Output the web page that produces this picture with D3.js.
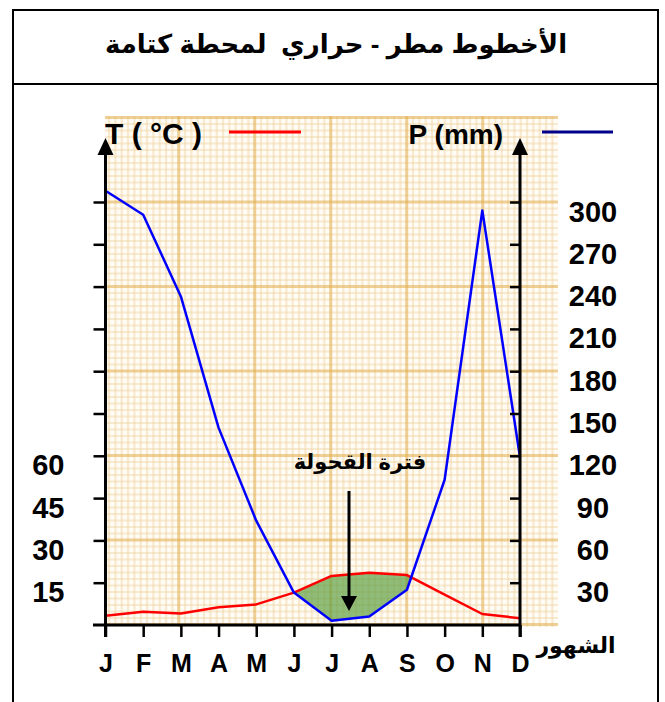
<!DOCTYPE html>
<html>
<head>
<meta charset="utf-8">
<script src="https://cdn.jsdelivr.net/npm/d3@7"></script>
<style>
  html, body { margin: 0; padding: 0; background: #fff; }
  svg { display: block; }
  text { font-family: "Liberation Sans", Arial, "DejaVu Sans", sans-serif; font-weight: bold; fill: #000; }
</style>
</head>
<body>
<svg id="chart" width="665" height="702"></svg>
<script>
// ---- data ----
const months = ["J", "F", "M", "A", "M", "J", "J", "A", "S", "O", "N", "D"];
const precip = [308, 291, 233, 140, 74, 23, 3, 6, 25, 103, 294, 119];       // P (mm)
const temp   = [3.3, 4.7, 4.1, 6.3, 7.3, 11.5, 17.4, 18.5, 17.7, 10.8, 3.9, 2.4]; // T (°C)
const pTicks = [30, 60, 90, 120, 150, 180, 210, 240, 270, 300];
const pTickLabels = ["30", "60", "90", "120", "150", "180", "210", "240", "270", "300"];
const tTicks = [15, 30, 45, 60, 75, 90, 105, 120, 135, 150];
const tTickLabels = ["15", "30", "45", "60"];
const titleText = "الأخطوط مطر - حراري  لمحطة كتامة";
const dryLabel = "فترة القحولة";
const monthsLabel = "الشهور";

// ---- layout ----
const svg = d3.select("#chart");
const x = d3.scaleLinear().domain([0, 11]).range([105.5, 520]);
const yP = d3.scaleLinear().domain([0, 300]).range([625, 202]);
const yT = d3.scaleLinear().domain([0, 150]).range([625, 202]);

// frame
svg.append("rect").attr("x", 13).attr("y", 10).attr("width", 645).attr("height", 720)
  .attr("fill", "none").attr("stroke", "#000").attr("stroke-width", 2);
svg.append("line").attr("x1", 13).attr("x2", 658).attr("y1", 84).attr("y2", 84)
  .attr("stroke", "#000").attr("stroke-width", 2);

svg.append("text").attr("x", 336).attr("y", 44).attr("text-anchor", "middle")
  .attr("dominant-baseline", "central").attr("direction", "rtl")
  .attr("xml:space", "preserve").style("white-space", "pre")
  .style("font-size", "26px").text(titleText);

// ---- graph-paper background ----
const gx0 = 105, gx1 = 558, gy0 = 116, gy1 = 627;
const bg = svg.append("g");
bg.append("rect").attr("x", gx0).attr("y", gy0).attr("width", gx1 - gx0).attr("height", gy1 - gy0)
  .attr("fill", "#fffbf5");
const majX = 76, majY = 84.5, nMinX = 12, nMinY = 13;
const xStart = 102.7, yStart = 117.5;
const vMinor = [], vMajor = [], hMinor = [], hMajor = [];
for (let k = 0; ; k++) {
  const v = xStart + k * majX / nMinX;
  if (v > gx1) break;
  if (v < gx0) continue;
  (k % nMinX === 0 ? vMajor : vMinor).push(v);
}
for (let k = 0; ; k++) {
  const v = yStart + k * majY / nMinY;
  if (v > gy1) break;
  if (v < gy0) continue;
  (k % nMinY === 0 ? hMajor : hMinor).push(v);
}
const minorCol = "rgba(236,204,145,0.36)";
const majorCol = "rgba(226,176,80,0.58)";
bg.selectAll(".vmin").data(vMinor).join("line").attr("x1", d => d).attr("x2", d => d)
  .attr("y1", gy0).attr("y2", gy1).attr("stroke", minorCol).attr("stroke-width", 2.2);
bg.selectAll(".hmin").data(hMinor).join("line").attr("y1", d => d).attr("y2", d => d)
  .attr("x1", gx0).attr("x2", gx1).attr("stroke", minorCol).attr("stroke-width", 2.2);
bg.selectAll(".vmaj").data(vMajor).join("line").attr("x1", d => d).attr("x2", d => d)
  .attr("y1", gy0).attr("y2", gy1).attr("stroke", majorCol).attr("stroke-width", 3);
bg.selectAll(".hmaj").data(hMajor).join("line").attr("y1", d => d).attr("y2", d => d)
  .attr("x1", gx0).attr("x2", gx1).attr("stroke", majorCol).attr("stroke-width", 3);

// ---- dry period area (P < 2T) ----
const pts = [];
for (let i = 0; i < months.length; i++) {
  const d0 = precip[i] - 2 * temp[i];
  pts.push({ x: i, p: precip[i], t2: 2 * temp[i] });
  if (i < months.length - 1) {
    const d1 = precip[i + 1] - 2 * temp[i + 1];
    if (d0 * d1 < 0) {
      const f = d0 / (d0 - d1);
      const v = precip[i] + f * (precip[i + 1] - precip[i]);
      pts.push({ x: i + f, p: v, t2: v });
    }
  }
}
const dryArea = d3.area()
  .defined(d => d.p <= d.t2 + 1e-9)
  .x(d => x(d.x)).y0(d => yP(d.p)).y1(d => yP(d.t2));
svg.append("path").datum(pts).attr("d", dryArea)
  .attr("fill", "#5c9e40").attr("fill-opacity", 0.68);

// ---- lines ----
const lineP = d3.line().x((d, i) => x(i)).y(d => yP(d));
const lineT = d3.line().x((d, i) => x(i)).y(d => yT(d));
svg.append("path").datum(temp).attr("d", lineT).attr("fill", "none")
  .attr("stroke", "#ff0000").attr("stroke-width", 2.5).attr("stroke-linejoin", "round");
svg.append("path").datum(precip).attr("d", lineP).attr("fill", "none")
  .attr("stroke", "#0000ff").attr("stroke-width", 2.5).attr("stroke-linejoin", "round");

// ---- axes ----
const axisColor = "#000";
// left axis
const leftAxis = d3.axisLeft(yT).tickValues(tTicks).tickSizeInner(12).tickSizeOuter(0)
  .tickPadding(29).tickFormat(d => tTickLabels.includes(String(d)) ? String(d) : "");
const gl = svg.append("g").attr("transform", `translate(${x(0)},0)`).call(leftAxis);
gl.select(".domain").remove();
gl.selectAll(".tick line").attr("stroke", axisColor).attr("stroke-width", 2.5);
gl.selectAll(".tick text").attr("dy", "0").attr("dominant-baseline", "central")
  .attr("transform", "translate(0,9)").style("font-size", "29px").style("font-family", "Liberation Sans, Arial, sans-serif");

// right axis
const rightAxis = d3.axisRight(yP).tickValues(pTicks).tickSizeInner(-10).tickSizeOuter(0)
  .tickPadding(73).tickFormat((d, i) => pTickLabels[i]);
const gr = svg.append("g").attr("transform", `translate(${x(11)},0)`).call(rightAxis);
gr.select(".domain").remove();
gr.selectAll(".tick line").attr("stroke", axisColor).attr("stroke-width", 2.5);
gr.selectAll(".tick text").attr("dy", "0").attr("dominant-baseline", "central")
  .attr("text-anchor", "middle").attr("transform", "translate(0,9)")
  .style("font-size", "29px").style("font-family", "Liberation Sans, Arial, sans-serif");

// bottom axis
const bottomAxis = d3.axisBottom(x).tickValues(d3.range(12)).tickSizeInner(12).tickSizeOuter(0)
  .tickPadding(17).tickFormat(i => months[i]);
const gb = svg.append("g").attr("transform", `translate(0,${yP(0)})`).call(bottomAxis);
gb.select(".domain").remove();
gb.selectAll(".tick line").attr("stroke", axisColor).attr("stroke-width", 2.5);
gb.selectAll(".tick text").style("font-size", "25px").style("font-family", "Liberation Sans, Arial, sans-serif");

// axis lines
svg.append("line").attr("x1", 93).attr("x2", x(11)).attr("y1", yP(0)).attr("y2", yP(0))
  .attr("stroke", axisColor).attr("stroke-width", 3);
[x(0), x(11)].forEach(ax => {
  svg.append("line").attr("x1", ax).attr("x2", ax).attr("y1", 150).attr("y2", 637)
    .attr("stroke", axisColor).attr("stroke-width", 3);
  svg.append("path").attr("d", `M${ax},138 L${ax - 8},155 L${ax + 8},155 Z`).attr("fill", axisColor);
});

// ---- legend / axis titles ----
svg.append("text").attr("x", 105).attr("y", 144).attr("xml:space", "preserve")
  .style("font-size", "30px").style("white-space", "pre").text("T ( °C )");
svg.append("line").attr("x1", 229).attr("x2", 301).attr("y1", 132).attr("y2", 132)
  .attr("stroke", "#ff0000").attr("stroke-width", 3);
svg.append("text").attr("x", 503).attr("y", 144).attr("text-anchor", "end")
  .style("font-size", "28px").text("P (mm)");
svg.append("line").attr("x1", 542).attr("x2", 613).attr("y1", 132).attr("y2", 132)
  .attr("stroke", "#00008b").attr("stroke-width", 3);

svg.append("text").attr("x", 576).attr("y", 645).attr("text-anchor", "middle")
  .attr("dominant-baseline", "central").attr("direction", "rtl")
  .style("font-size", "22px").text(monthsLabel);

// ---- dry period label and arrow ----
svg.append("text").attr("x", 360).attr("y", 461).attr("text-anchor", "middle")
  .attr("dominant-baseline", "central").attr("direction", "rtl")
  .style("font-size", "21px").text(dryLabel);
svg.append("line").attr("x1", 349).attr("x2", 349).attr("y1", 491).attr("y2", 598)
  .attr("stroke", "#000").attr("stroke-width", 3);
svg.append("path").attr("d", "M341,596 L357,596 L349,611 Z").attr("fill", "#000");
</script>
</body>
</html>
